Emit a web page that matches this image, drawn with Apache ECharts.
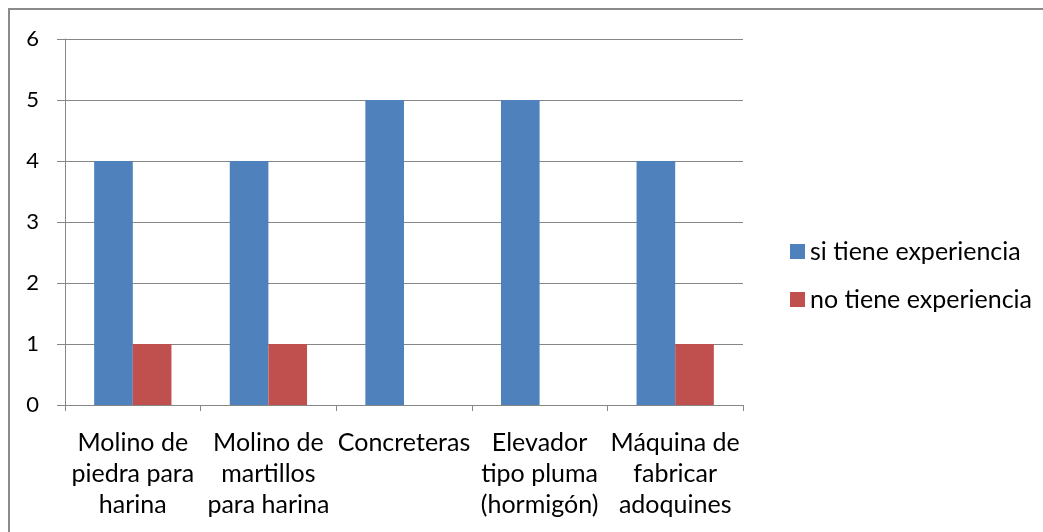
<!DOCTYPE html>
<html>
<head>
<meta charset="utf-8">
<script src="https://cdn.jsdelivr.net/npm/echarts@6/dist/echarts.min.js"></script>
<style>
html,body{margin:0;padding:0;background:#fff;}
#chart{width:1043px;height:532px;}
</style>
</head>
<body>
<div id="chart"></div>
<script>
const categories = [
  "Molino de\npiedra para\nharina",
  "Molino de\nmartillos\npara harina",
  "Concreteras",
  "Elevador\ntipo pluma\n(hormigón)",
  "Máquina de\nfabricar\nadoquines"
];
const seriesNames = ["si tiene experiencia", "no tiene experiencia"];
const siValues = [4, 4, 5, 5, 4];
const noValues = [1, 1, 0, 0, 1];
const yTicks = [0, 1, 2, 3, 4, 5, 6];

const FONT = 'Lato, Carlito, Calibri, sans-serif';
const chart = echarts.init(document.getElementById('chart'), null, {renderer: 'canvas'});
chart.setOption({
  animation: false,
  backgroundColor: '#ffffff',
  graphic: [{
    type: 'rect',
    shape: {x: 9, y: 9, width: 1200, height: 700},
    style: {fill: 'none', stroke: '#8a8a8a', lineWidth: 2},
    silent: true
  }],
  grid: {left: 65, right: 300, top: 39, bottom: 127},
  legend: {
    orient: 'vertical',
    left: 785,
    top: 234,
    itemWidth: 15,
    itemHeight: 15,
    itemGap: 23,
    icon: 'rect',
    textStyle: {fontFamily: FONT, fontSize: 25, color: '#000'},
    data: seriesNames
  },
  xAxis: {
    type: 'category',
    data: categories,
    axisLine: {lineStyle: {color: '#868686', width: 1}},
    axisTick: {show: true, length: 6, lineStyle: {color: '#868686'}},
    axisLabel: {
      interval: 0,
      margin: 22,
      fontFamily: FONT,
      fontSize: 25,
      lineHeight: 31,
      color: '#000'
    }
  },
  yAxis: {
    type: 'value',
    min: yTicks[0],
    max: yTicks[yTicks.length - 1],
    interval: 1,
    axisLine: {show: true, lineStyle: {color: '#868686', width: 1}},
    axisTick: {show: true, length: 8, lineStyle: {color: '#868686'}},
    splitLine: {show: true, lineStyle: {color: '#868686', width: 1}},
    axisLabel: {
      margin: 26,
      fontFamily: FONT,
      fontSize: 22,
      color: '#000'
    }
  },
  series: [
    {
      name: seriesNames[0],
      type: 'bar',
      data: siValues,
      itemStyle: {color: '#4F81BD'},
      barGap: '0%',
      barCategoryGap: '43%'
    },
    {
      name: seriesNames[1],
      type: 'bar',
      data: noValues,
      itemStyle: {color: '#C0504D'},
      barGap: '0%',
      barCategoryGap: '43%'
    }
  ]
});
</script>
</body>
</html>
